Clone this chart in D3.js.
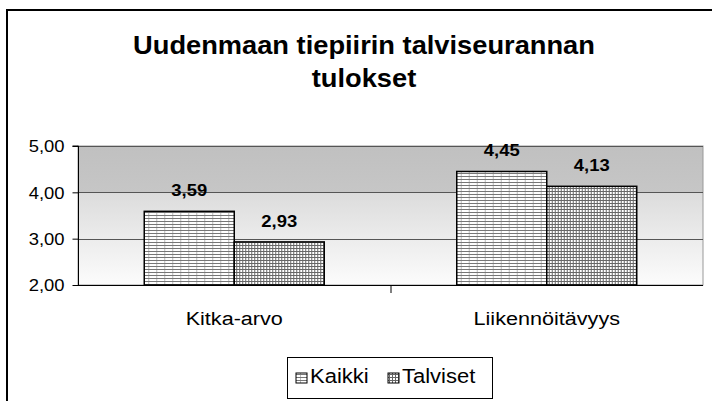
<!DOCTYPE html>
<html>
<head>
<meta charset="utf-8">
<script src="https://cdn.jsdelivr.net/npm/d3@7.9.0/dist/d3.min.js"></script>
<style>
  body { margin: 0; background: #fff; }
  svg { display: block; font-family: "Liberation Sans", Arial, sans-serif; }
</style>
</head>
<body>
<svg id="chart" width="712" height="401"></svg>
<script>
const categories = ['Kitka-arvo', 'Liikennöitävyys'];
const seriesNames = ['Kaikki', 'Talviset'];
const kaikki = [3.59, 4.45];
const talviset = [2.93, 4.13];
const yTicks = [2, 3, 4, 5];
const titleLines = ['Uudenmaan tiepiirin talviseurannan', 'tulokset'];

const fmt = d => d.toFixed(2).replace('.', ',');

const svg = d3.select('#chart');
const defs = svg.append('defs');

// the reference text is drawn wider than Arial, so stretch it a bit
function widen(sel, k = 1.15) {
  sel.each(function () {
    const w = this.getComputedTextLength();
    d3.select(this).attr('textLength', w * k).attr('lengthAdjust', 'spacingAndGlyphs');
  });
}

// background gradient of plot area
const grad = defs.append('linearGradient').attr('id', 'bg')
  .attr('x1', 0).attr('y1', 0).attr('x2', 0).attr('y2', 1);
grad.append('stop').attr('offset', '0%').attr('stop-color', '#c0c0c0');
grad.append('stop').attr('offset', '33%').attr('stop-color', '#c6c6c6');
grad.append('stop').attr('offset', '34%').attr('stop-color', '#dcdcdc');
grad.append('stop').attr('offset', '100%').attr('stop-color', '#fcfcfc');

// hatch patterns
const p1 = defs.append('pattern').attr('id', 'pKaikki')
  .attr('patternUnits', 'userSpaceOnUse').attr('width', 8).attr('height', 3);
p1.append('rect').attr('width', 8).attr('height', 3).attr('fill', '#fff');
p1.append('rect').attr('y', 2).attr('width', 8).attr('height', 1).attr('fill', '#777');
p1.append('rect').attr('x', 4).attr('width', 1).attr('height', 2).attr('fill', '#bbb');

const p2 = defs.append('pattern').attr('id', 'pTalviset')
  .attr('patternUnits', 'userSpaceOnUse').attr('width', 3).attr('height', 3);
p2.append('rect').attr('width', 3).attr('height', 3).attr('fill', '#fff');
p2.append('rect').attr('y', 2).attr('width', 3).attr('height', 1).attr('fill', '#666');
p2.append('rect').attr('x', 2).attr('width', 1).attr('height', 3).attr('fill', '#666');

const fills = ['url(#pKaikki)', 'url(#pTalviset)'];

// outer chart border
svg.append('rect').attr('x', 7).attr('y', 10).attr('width', 720).attr('height', 400)
  .attr('fill', 'none').attr('stroke', '#000').attr('stroke-width', 2);

// title
svg.append('g').selectAll('text').data(titleLines).join('text')
  .attr('x', 364).attr('y', (d, i) => 54 + i * 33)
  .attr('text-anchor', 'middle').attr('font-size', 25).attr('font-weight', 'bold')
  .text(d => d).call(widen, 1.09);

const plotL = 78, plotR = 703, plotT = 146, plotB = 285;

const y = d3.scaleLinear().domain([2, 5]).range([plotB, plotT]);
const x0 = d3.scaleBand().domain(categories).range([plotL, plotR]).paddingInner(0).paddingOuter(0);
const x1 = d3.scaleBand().domain(seriesNames).range([0, 180]);
const groupOff = (x0.bandwidth() - 180) / 2;

// plot area
svg.append('rect').attr('x', plotL).attr('y', plotT).attr('width', plotR - plotL).attr('height', plotB - plotT)
  .attr('fill', 'url(#bg)').attr('stroke', '#999').attr('stroke-width', 1);

// gridlines
svg.append('g').selectAll('line').data(yTicks.slice(1)).join('line')
  .attr('x1', plotL).attr('x2', plotR)
  .attr('y1', d => Math.round(y(d)) + 0.5).attr('y2', d => Math.round(y(d)) + 0.5)
  .attr('stroke', '#555').attr('stroke-width', 1);

// bars
const rows = categories.map((c, i) => ({ cat: c, vals: [kaikki[i], talviset[i]] }));
const groups = svg.append('g').selectAll('g').data(rows).join('g')
  .attr('transform', d => `translate(${x0(d.cat) + groupOff},0)`);

groups.selectAll('rect').data(d => d.vals.map((v, j) => ({ v, s: seriesNames[j], j }))).join('rect')
  .attr('x', d => x1(d.s)).attr('width', x1.bandwidth())
  .attr('y', d => y(d.v)).attr('height', d => y(2) - y(d.v))
  .attr('fill', d => fills[d.j]).attr('stroke', '#000').attr('stroke-width', 1.5);

groups.selectAll('text').data(d => d.vals.map((v, j) => ({ v, s: seriesNames[j] }))).join('text')
  .attr('x', d => x1(d.s) + x1.bandwidth() / 2)
  .attr('y', d => y(d.v) - 15)
  .attr('text-anchor', 'middle').attr('font-size', 16).attr('font-weight', 'bold')
  .text(d => fmt(d.v)).call(widen);

// y axis
const yAxis = svg.append('g').attr('transform', `translate(${plotL + 0.5},0)`)
  .call(d3.axisLeft(y).tickValues(yTicks).tickSize(6).tickPadding(8).tickFormat(fmt));
yAxis.select('.domain').attr('stroke', '#000').attr('d', `M-6,${y(5)}H0V${plotB}`);
yAxis.selectAll('.tick line').attr('stroke', '#000');
yAxis.selectAll('text').attr('font-size', 16).attr('font-family', 'Liberation Sans, Arial, sans-serif')
  .attr('fill', '#000').attr('dy', '0.36em').call(widen);

// x axis
const xAxis = svg.append('g').attr('transform', `translate(0,${plotB + 0.5})`)
  .call(d3.axisBottom(x0).tickSize(0).tickPadding(0));
xAxis.select('.domain').attr('stroke', '#000').attr('d', `M${plotL},0H${plotR}`);
xAxis.selectAll('text').attr('font-size', 18).attr('font-family', 'Liberation Sans, Arial, sans-serif')
  .attr('fill', '#000').attr('dy', null).attr('y', 39).call(widen, 1.2);
svg.append('line').attr('x1', x0(categories[1]) + 0.5).attr('x2', x0(categories[1]) + 0.5)
  .attr('y1', plotB).attr('y2', plotB + 8).attr('stroke', '#000');

// legend
const lg = svg.append('g');
lg.append('rect').attr('x', 287.5).attr('y', 357.5).attr('width', 205).attr('height', 41)
  .attr('fill', '#fff').attr('stroke', '#000').attr('stroke-width', 1);
const legendX = [296, 388];
seriesNames.forEach((s, i) => {
  lg.append('rect').attr('x', legendX[i]).attr('y', 373).attr('width', 11).attr('height', 10)
    .attr('fill', fills[i]).attr('stroke', '#000').attr('stroke-width', 1);
  lg.append('text').attr('x', legendX[i] + 14).attr('y', 383).attr('font-size', 20).text(s).call(widen, 1.1);
});
</script>
</body>
</html>
